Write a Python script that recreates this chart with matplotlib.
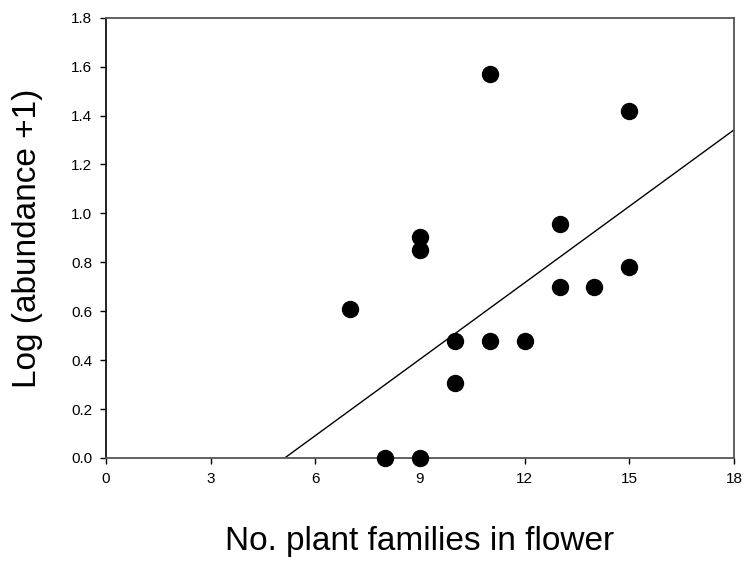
import matplotlib
matplotlib.use("Agg")
import matplotlib.pyplot as plt
import numpy as np

plt.rcParams['font.family'] = ['Liberation Sans', 'DejaVu Sans']

# Number of plant families in flower vs. log-transformed abundance
families = [7, 8, 9, 9, 9, 10, 10, 11, 11, 12, 13, 13, 14, 15, 15]
log_abundance = [0.61, 0.0, 0.0, 0.85, 0.905, 0.305, 0.48, 0.48, 1.57,
                 0.48, 0.70, 0.955, 0.70, 0.78, 1.42]

# Fitted regression line
slope = 0.1042
intercept = -0.534

x_ticks = [0, 3, 6, 9, 12, 15, 18]
y_ticks = [0.0, 0.2, 0.4, 0.6, 0.8, 1.0, 1.2, 1.4, 1.6, 1.8]

fig = plt.figure(figsize=(7.46, 5.71), dpi=100)
ax = fig.add_axes([0.142, 0.198, 0.842, 0.771])

x0 = -intercept / slope
xs = np.array([x0, 18])
ax.plot(xs, slope * xs + intercept, color='black', linewidth=1.0, zorder=2)

ax.plot(families, log_abundance, linestyle='none', marker='o',
        markersize=11.5, color='black', clip_on=False, zorder=3)

ax.set_xlim(0, 18)
ax.set_ylim(0, 1.8)
ax.set_xticks(x_ticks)
ax.set_xticklabels([str(t) for t in x_ticks])
ax.set_yticks(y_ticks)
ax.set_yticklabels([f"{t:.1f}" for t in y_ticks])

ax.tick_params(direction='out', length=4, width=1.0, labelsize=11,
               pad=6, colors='black')
for side in ['top', 'right', 'bottom']:
    ax.spines[side].set_color('#555555')
    ax.spines[side].set_linewidth(1.3)
ax.spines['left'].set_color('black')
ax.spines['left'].set_linewidth(1.2)

ax.set_xlabel('No. plant families in flower', fontsize=24, labelpad=29)
ax.set_ylabel('Log (abundance +1)', fontsize=24, labelpad=20)

fig.savefig('out.png', dpi=100)
